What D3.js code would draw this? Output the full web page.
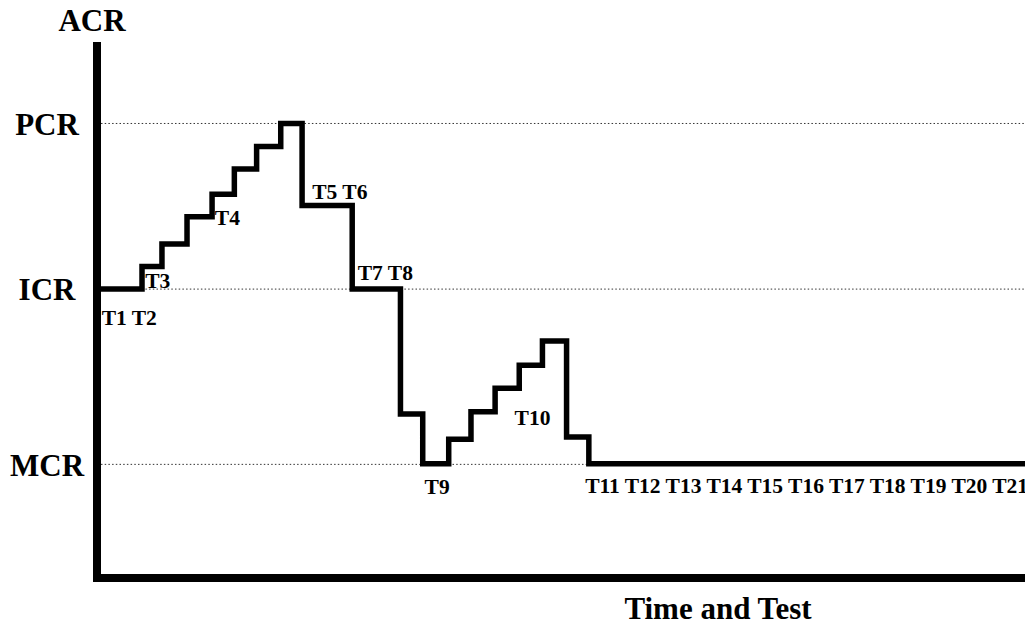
<!DOCTYPE html>
<html>
<head>
<meta charset="utf-8">
<script src="https://cdn.jsdelivr.net/npm/d3@7"></script>
<style>
  body { margin: 0; background: #fff; }
  svg { display: block; font-family: "Liberation Serif", "Times New Roman", serif; font-weight: bold; }
</style>
</head>
<body>
<div id="chart"></div>
<script>
// Reference levels on the ACR axis
const refNames = ["PCR", "ICR", "MCR"];
const refLevels = [84.8, 53.9, 21.2];

// Step profile: time where each step starts, and its ACR level
const stepTimes = [0, 4.85, 7.0, 9.7, 12.4, 14.8, 17.2, 19.8, 22.1, 27.5, 32.7, 35.1, 37.9, 40.3, 42.9, 45.5, 48.0, 50.6, 53.0, 100];
const stepLevels = [53.9, 58.1, 62.3, 67.4, 71.6, 76.3, 80.5, 84.8, 69.5, 53.9, 30.6, 21.3, 25.9, 31.0, 35.4, 39.7, 44.2, 26.3, 21.3, 21.3];

// Test labels and where they sit (time, level)
const testLabels = ["T1 T2", "T3", "T4", "T5 T6", "T7 T8", "T9", "T10",
  "T11 T12 T13 T14 T15 T16 T17 T18 T19 T20 T21"];
const labelTimes = [0.5, 5.2, 12.7, 23.2, 28.1, 35.3, 45.0, 52.6];
const labelLevels = [47.2, 54.1, 65.9, 70.7, 55.6, 15.6, 28.5, 15.9];

const width = 1025;
const height = 626;
const x0 = 97, x1 = 1025, yTop = 42, yBottom = 578;

const svg = d3.select("#chart")
  .append("svg")
  .attr("width", width)
  .attr("height", height);

const x = d3.scaleLinear().domain([0, 100]).range([x0, x1]);
const y = d3.scaleLinear().domain([0, 100]).range([yBottom, yTop]);

// dotted reference lines
svg.selectAll(".ref")
  .data(refLevels)
  .enter()
  .append("line")
  .attr("x1", x0 + 4)
  .attr("x2", x1)
  .attr("y1", (d) => y(d))
  .attr("y2", (d) => y(d))
  .attr("stroke", "#333")
  .attr("stroke-width", 1)
  .attr("stroke-dasharray", "1.5,2.2");

// y axis with the reference names as tick labels
const yAxis = d3.axisLeft(y)
  .tickValues(refLevels)
  .tickFormat((d, i) => refNames[i])
  .tickSize(0)
  .tickSizeOuter(0);

const gy = svg.append("g")
  .attr("transform", `translate(${x0},0)`)
  .call(yAxis);
gy.select(".domain")
  .attr("stroke", "#000")
  .attr("stroke-width", 8)
  .attr("d", `M0,${yTop}V${yBottom + 4}`);
gy.selectAll("text")
  .attr("x", -50)
  .attr("text-anchor", "middle")
  .attr("dy", "0.35em")
  .attr("fill", "#000")
  .style("font-family", "'Liberation Serif', 'Times New Roman', serif")
  .style("font-weight", "bold")
  .style("font-size", "31px");

// x axis, no ticks
const xAxis = d3.axisBottom(x).tickValues([]).tickSizeOuter(0);
const gx = svg.append("g")
  .attr("transform", `translate(0,${yBottom})`)
  .call(xAxis);
gx.select(".domain")
  .attr("stroke", "#000")
  .attr("stroke-width", 8)
  .attr("d", `M${x0 - 4},0H${x1}`);

// step line
const pts = stepTimes.map((t, i) => [t, stepLevels[i]]);
const line = d3.line()
  .x((d) => x(d[0]))
  .y((d) => y(d[1]))
  .curve(d3.curveStepAfter);

svg.append("path")
  .datum(pts)
  .attr("d", line)
  .attr("fill", "none")
  .attr("stroke", "#000")
  .attr("stroke-width", 5.5)
  .attr("stroke-linejoin", "miter");

// test labels
svg.selectAll(".tlabel")
  .data(testLabels)
  .enter()
  .append("text")
  .attr("x", (d, i) => x(labelTimes[i]))
  .attr("y", (d, i) => y(labelLevels[i]))
  .attr("font-size", "21.5px")
  .attr("fill", "#000")
  .style("white-space", "pre")
  .text((d) => d);

// axis titles
svg.append("text")
  .attr("x", 92)
  .attr("y", 31)
  .attr("text-anchor", "middle")
  .attr("font-size", "31px")
  .text("ACR");

svg.append("text")
  .attr("x", 718)
  .attr("y", 619)
  .attr("text-anchor", "middle")
  .attr("font-size", "31px")
  .text("Time and Test");
</script>
</body>
</html>
